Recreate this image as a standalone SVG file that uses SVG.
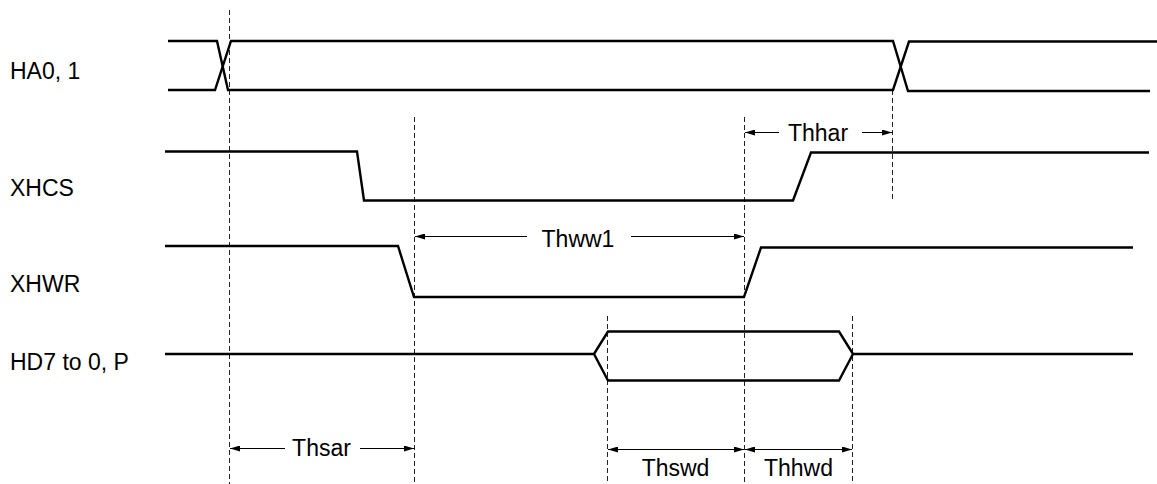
<svg xmlns="http://www.w3.org/2000/svg" width="1157" height="484" viewBox="0 0 1157 484">
<style>
.sig{fill:none;stroke:#000;stroke-width:2.4;stroke-linejoin:miter}
.dash{fill:none;stroke:#222;stroke-width:1;stroke-dasharray:5,3}
.dim{fill:none;stroke:#000;stroke-width:1}
.lbl{font-family:"Liberation Sans",Arial,sans-serif;font-size:23px;fill:#000}
.mid{text-anchor:middle}
</style>
<defs>
<marker id="ah" viewBox="0 0 10 6" refX="10" refY="3" markerWidth="10" markerHeight="6" markerUnits="userSpaceOnUse" orient="auto-start-reverse">
<path d="M0,0 L10,3 L0,6 Z" fill="#000"/>
</marker>
</defs>
<rect width="1157" height="484" fill="#fff"/>
<g id="guides">
<line class="dash" x1="229.5" y1="10" x2="229.5" y2="484"/>
<line class="dash" x1="414.5" y1="117" x2="414.5" y2="484"/>
<line class="dash" x1="744.5" y1="117" x2="744.5" y2="484"/>
<line class="dash" x1="892.5" y1="90" x2="892.5" y2="200"/>
<line class="dash" x1="607.5" y1="316" x2="607.5" y2="484"/>
<line class="dash" x1="852.5" y1="316" x2="852.5" y2="484"/>
</g>
<g id="HA0">
<text class="lbl" x="10" y="79">HA0, 1</text>
<path class="sig" d="M168,41 H217 L228,90 H893 L909,41.5 H1157"/>
<path class="sig" d="M168,90 H215 L231,41 H893 L908,91 H1150"/>
</g>
<g id="XHCS">
<text class="lbl" x="10" y="196">XHCS</text>
<path class="sig" d="M165,151.5 H357 L364,200.5 H793 L811,152.5 H1149"/>
</g>
<g id="XHWR">
<text class="lbl" x="10" y="292">XHWR</text>
<path class="sig" d="M165,246 H398 L414,297 H744 L761,247.5 H1133"/>
</g>
<g id="HD">
<text class="lbl" x="10" y="370">HD7 to 0, P</text>
<path class="sig" d="M165,354 H594 L608,331.5 H839 L853,354 H1133"/>
<path class="sig" d="M594,354 L608,380.5 H839 L853,354"/>
</g>
<g id="connectors">
<line class="dim" x1="779" y1="132.5" x2="745" y2="132.5" marker-end="url(#ah)"/>
<line class="dim" x1="862" y1="132.5" x2="892" y2="132.5" marker-end="url(#ah)"/>
<line class="dim" x1="527" y1="236.5" x2="415" y2="236.5" marker-end="url(#ah)"/>
<line class="dim" x1="631" y1="236.5" x2="744" y2="236.5" marker-end="url(#ah)"/>
<line class="dim" x1="285" y1="448.5" x2="230" y2="448.5" marker-end="url(#ah)"/>
<line class="dim" x1="360" y1="448.5" x2="414" y2="448.5" marker-end="url(#ah)"/>
<line class="dim" x1="608" y1="449.5" x2="744" y2="449.5" marker-start="url(#ah)" marker-end="url(#ah)"/>
<line class="dim" x1="745" y1="449.5" x2="852" y2="449.5" marker-start="url(#ah)" marker-end="url(#ah)"/>
</g>
<g id="timing-labels">
<text class="lbl mid" x="818" y="140.5">Thhar</text>
<text class="lbl mid" x="578" y="246.5">Thww1</text>
<text class="lbl mid" x="321.5" y="456">Thsar</text>
<text class="lbl mid" x="675.5" y="476">Thswd</text>
<text class="lbl mid" x="798.5" y="476">Thhwd</text>
</g>
</svg>
